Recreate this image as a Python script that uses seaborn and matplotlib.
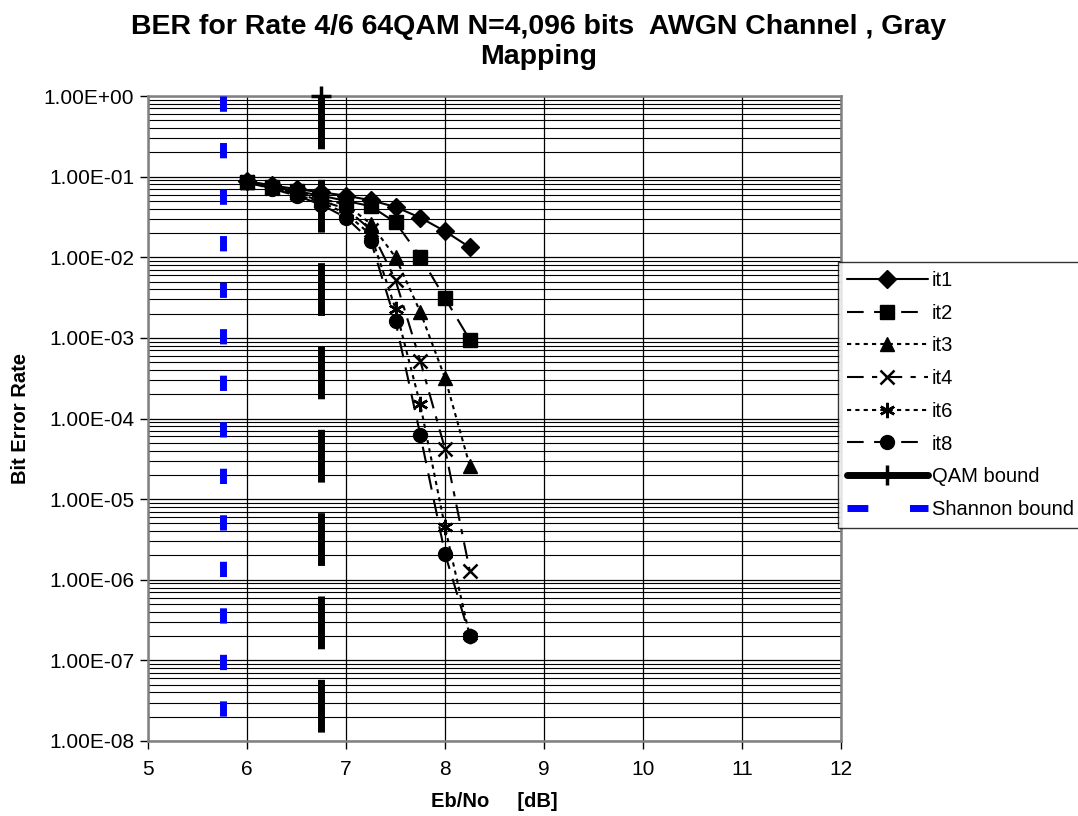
import numpy as np
import pandas as pd
import matplotlib
matplotlib.use("Agg")
import matplotlib.pyplot as plt
from matplotlib.ticker import FuncFormatter, NullFormatter, FixedLocator
from matplotlib.lines import Line2D
import seaborn as sns

# Eb/No operating points (dB) shared by all iteration curves
ebno = [6.0, 6.25, 6.5, 6.75, 7.0, 7.25, 7.5, 7.75, 8.0, 8.25]

# Bit error rate after each decoder iteration
ber_it1 = [8.8e-2, 7.8e-2, 7.0e-2, 6.4e-2, 5.8e-2, 5.1e-2, 4.2e-2, 3.1e-2, 2.1e-2, 1.33e-2]
ber_it2 = [8.7e-2, 7.5e-2, 6.6e-2, 5.8e-2, 5.0e-2, 4.3e-2, 2.7e-2, 1.02e-2, 3.1e-3, 9.5e-4]
ber_it3 = [8.6e-2, 7.4e-2, 6.4e-2, 5.3e-2, 4.5e-2, 2.6e-2, 1.0e-2, 2.1e-3, 3.2e-4, 2.6e-5]
ber_it4 = [8.6e-2, 7.3e-2, 6.2e-2, 5.0e-2, 4.0e-2, 2.2e-2, 5.2e-3, 5.2e-4, 4.2e-5, 1.3e-6]
ber_it6 = [8.5e-2, 7.2e-2, 6.0e-2, 4.8e-2, 3.5e-2, 1.9e-2, 2.3e-3, 1.5e-4, 4.5e-6, 2.0e-7]
ber_it8 = [8.5e-2, 7.1e-2, 5.8e-2, 4.5e-2, 3.1e-2, 1.6e-2, 1.6e-3, 6.3e-5, 2.1e-6, 2.0e-7]

# Capacity limits drawn as vertical lines
qam_x = [6.75, 6.75]
qam_y = [1.0, 1e-8]
shannon_x = [5.76, 5.76]
shannon_y = [1.0, 1e-8]

# Axis ticks
x_ticks = [5, 6, 7, 8, 9, 10, 11, 12]
y_decades = [1e-8, 1e-7, 1e-6, 1e-5, 1e-4, 1e-3, 1e-2, 1e-1, 1e0]

series_names = ["it1", "it2", "it3", "it4", "it6", "it8"]
series_values = [ber_it1, ber_it2, ber_it3, ber_it4, ber_it6, ber_it8]

styles = {
    "it1": dict(marker="D", ms=9, ls="-"),
    "it2": dict(marker="s", ms=10, ls=(0, (8, 5))),
    "it3": dict(marker="^", ms=10, ls=(0, (2, 2))),
    "it4": dict(marker="x", ms=10, ls=(0, (8, 4, 2.5, 4)), mew=1.8),
    "it6": dict(marker=(6, 2, 0), ms=11, ls=(0, (2, 2)), mew=1.8),
    "it8": dict(marker="o", ms=10, ls=(0, (8, 5))),
}

sns.set_theme(style="white")
plt.rcParams["font.family"] = ["Liberation Sans", "DejaVu Sans"]
plt.rcParams.update({"text.color": "black", "axes.labelcolor": "black",
                     "xtick.color": "black", "ytick.color": "black"})

fig = plt.figure(figsize=(10.78, 8.16), dpi=100)
ax = fig.add_axes([148 / 1078, 1 - 741 / 816, (841 - 148) / 1078, (741 - 96) / 816])

handles = []
for name, vals in zip(series_names, series_values):
    st = styles[name]
    df = pd.DataFrame({"ebno": ebno, "ber": vals})
    sns.lineplot(data=df, x="ebno", y="ber", ax=ax, estimator=None, sort=False,
                 color="black", linewidth=1.5, linestyle=st["ls"],
                 marker=st["marker"], markersize=st["ms"],
                 markeredgewidth=st.get("mew", 1.0), markeredgecolor="black",
                 markerfacecolor="black", zorder=5)
    handles.append(Line2D([], [], color="black", linewidth=1.5, linestyle=st["ls"],
                          marker=st["marker"], markersize=st["ms"],
                          markeredgewidth=st.get("mew", 1.0),
                          markerfacecolor="black", markeredgecolor="black"))

df_qam = pd.DataFrame({"x": qam_x, "y": qam_y})
sns.lineplot(data=df_qam, x="x", y="y", ax=ax, estimator=None, sort=False,
             color="black", linewidth=5, linestyle=(0, (7.6, 4.4)),
             marker="+", markersize=14, markeredgewidth=2.5, markeredgecolor="black",
             markevery=[0], dash_capstyle="butt", zorder=4, clip_on=False)
handles.append(Line2D([], [], color="black", linewidth=5, linestyle="-",
                      marker="+", markersize=14, markeredgewidth=2.5,
                      markeredgecolor="black"))

df_sh = pd.DataFrame({"x": shannon_x, "y": shannon_y})
sns.lineplot(data=df_sh, x="x", y="y", ax=ax, estimator=None, sort=False,
             color="#0000FF", linewidth=5, linestyle=(0, (2.2, 4.5)),
             dash_capstyle="butt", zorder=4, clip_on=False)
handles.append(Line2D([], [], color="#0000FF", linewidth=5, linestyle=(0, (3, 6))))

ax.set_yscale("log")
ax.set_xlim(5, 12)
ax.set_ylim(1e-8, 1)
ax.xaxis.set_major_locator(FixedLocator(x_ticks))
ax.yaxis.set_major_locator(FixedLocator(y_decades))
minor_levels = [m * d for d in y_decades[:-1] for m in range(2, 10)]
ax.yaxis.set_minor_locator(FixedLocator(minor_levels))
ax.yaxis.set_major_formatter(FuncFormatter(lambda v, p: f"{v:.2E}"))
ax.yaxis.set_minor_formatter(NullFormatter())

ax.grid(True, which="major", axis="both", color="black", linewidth=0.9, zorder=0)
ax.grid(True, which="minor", axis="y", color="black", linewidth=0.8, zorder=0)
ax.set_axisbelow(True)

for sp in ax.spines.values():
    sp.set_color("#808080")
    sp.set_linewidth(1.8)

ax.tick_params(axis="both", which="major", direction="out", length=6, width=1,
               color="black", labelsize=15, pad=4, left=True, bottom=True)
ax.tick_params(axis="x", which="major", pad=8)
ax.tick_params(axis="y", which="minor", left=False)

ax.set_xlabel("Eb/No     [dB]", fontsize=14.5, fontweight="bold", labelpad=9)
ax.set_ylabel("Bit Error Rate", fontsize=14.5, fontweight="bold", labelpad=10)

fig.suptitle("BER for Rate 4/6 64QAM N=4,096 bits  AWGN Channel , Gray\nMapping",
             x=0.5, y=0.983, fontsize=20.5, fontweight="bold", linespacing=1.2)

leg = fig.legend(handles, series_names + ["QAM bound", "Shannon bound"],
                 loc="upper left", bbox_to_anchor=(838 / 1078, 1 - 262 / 816),
                 borderaxespad=0, frameon=True, fancybox=False, fontsize=14.5,
                 handlelength=4.0, handletextpad=0.2, labelspacing=0.68,
                 borderpad=0.45)
leg.get_frame().set_edgecolor("black")
leg.get_frame().set_linewidth(1.0)

fig.savefig("out.png", dpi=100, facecolor="white")
